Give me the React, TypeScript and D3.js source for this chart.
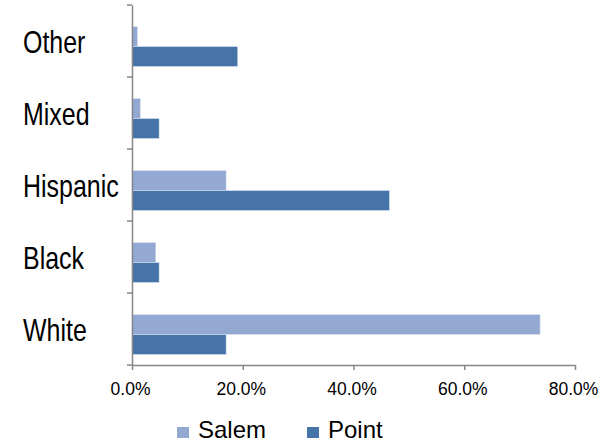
// @ts-nocheck
import React from "react";
import * as d3 from "d3";

const categories = ["Other", "Mixed", "Hispanic", "Black", "White"];
const salem = [1.0, 1.5, 17.0, 4.3, 73.7];
const point = [19.1, 4.9, 46.5, 4.9, 17.0];
const xTicks = [0, 20, 40, 60, 80];
const seriesNames = ["Salem", "Point"];
const colors = ["#93A9D1", "#4674A9"];

const App = () => {
  const svgRef = React.useRef(null);
  const width = 599;
  const height = 444;

  React.useEffect(() => {
    const x = d3.scaleLinear().domain([0, 80]).range([132, 575]);
    const y = d3.scaleBand().domain(categories).range([5, 365]);

    const svgEl = d3.select(svgRef.current);
    svgEl.selectAll("*").remove();
    const svg = svgEl.append("g");

    const barH = 20;
    const offset = 21.5;

    // bars
    [salem, point].forEach((vals, si) => {
      svg.append("g")
        .selectAll("rect")
        .data(categories)
        .enter()
        .append("rect")
        .attr("x", x(0))
        .attr("y", (c) => y(c) + offset + si * barH)
        .attr("width", (c, i) => x(vals[i]) - x(0))
        .attr("height", barH)
        .attr("fill", colors[si])
        .attr("stroke", "#dde4f0")
        .attr("stroke-width", 0.6);
    });

    // y axis line + ticks
    const yAxis = d3.axisLeft(y).tickSize(0).tickFormat(() => "");
    const yg = svg.append("g").attr("transform", `translate(${x(0)},0)`).call(yAxis);
    yg.select(".domain").attr("stroke", "#878787").attr("stroke-width", 1.5);
    const bounds = [...categories.map((c) => y(c)), y.range()[1]];
    svg.append("g")
      .selectAll("line")
      .data(bounds)
      .enter()
      .append("line")
      .attr("x1", x(0) - 5)
      .attr("x2", x(0))
      .attr("y1", (d) => d)
      .attr("y2", (d) => d)
      .attr("stroke", "#878787")
      .attr("stroke-width", 1.5);

    // category labels (condensed look)
    svg.append("g")
      .selectAll("text")
      .data(categories)
      .enter()
      .append("text")
      .attr("transform", (c) => `translate(23,${y(c) + y.bandwidth() / 2 + 12}) scale(0.78,1)`)
      .attr("font-family", "'Liberation Sans', sans-serif")
      .attr("font-size", 32)
      .attr("fill", "#000")
      .text((c) => c);

    // x axis
    const xAxis = d3.axisBottom(x)
      .tickValues(xTicks)
      .tickSize(5)
      .tickSizeOuter(0)
      .tickFormat((d) => d.toFixed(1) + "%");
    const xg = svg.append("g").attr("transform", `translate(0,365)`).call(xAxis);
    xg.select(".domain").attr("stroke", "#878787").attr("stroke-width", 1.5);
    xg.selectAll("line").attr("stroke", "#878787").attr("stroke-width", 1.5);
    xg.selectAll("text")
      .attr("x", -2)
      .attr("y", 18)
      .attr("dy", "0.71em")
      .attr("fill", "#000")
      .attr("font-family", "'Liberation Sans', sans-serif")
      .attr("font-size", 17.5);

    // legend
    const legendX = [177, 307];
    seriesNames.forEach((name, i) => {
      const g = svg.append("g").attr("transform", `translate(${legendX[i]},427)`);
      g.append("rect").attr("width", 12).attr("height", 11).attr("fill", colors[i]);
      g.append("text")
        .attr("x", 21)
        .attr("y", 11)
        .attr("font-family", "'Liberation Sans', sans-serif")
        .attr("font-size", 24)
        .attr("fill", "#000")
        .text(name);
    });
  }, []);

  return (
    <svg
      ref={svgRef}
      width={width}
      height={height}
      style={{ position: "absolute", left: 0, top: 0, background: "#fff" }}
    />
  );
};

export default App;
